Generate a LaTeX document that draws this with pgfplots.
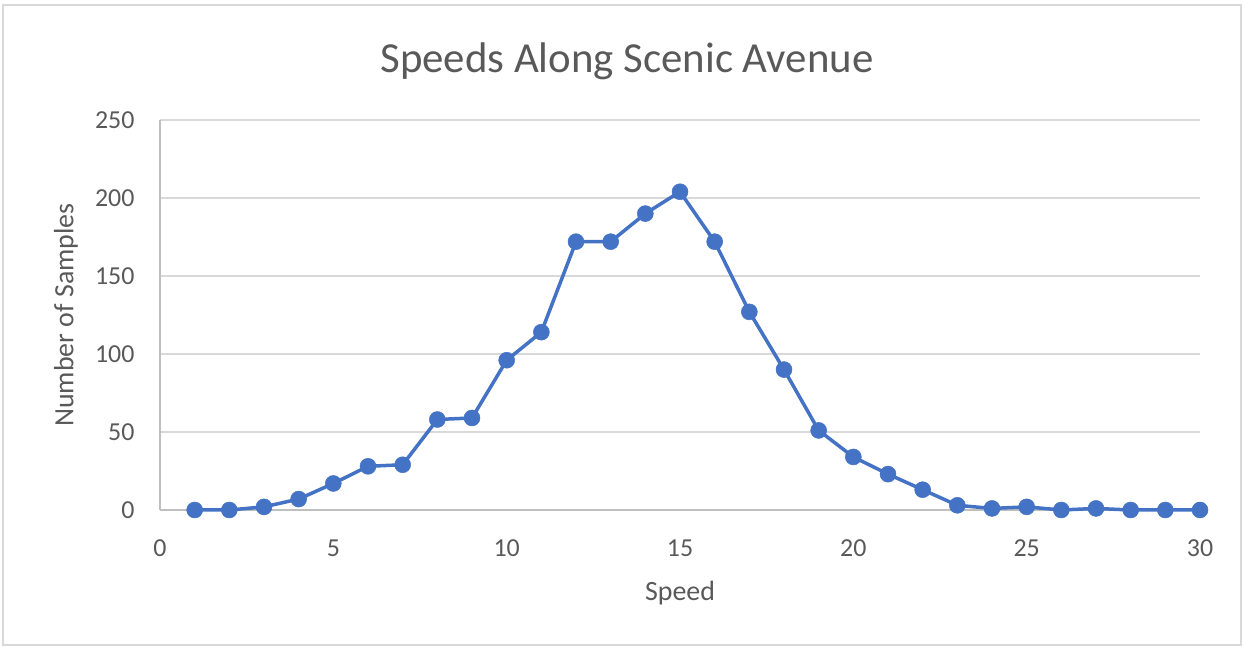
\documentclass[border=0pt]{standalone}
\usepackage{pgfplots}
\pgfplotsset{compat=1.18}
\usepackage{fontspec}
\setmainfont{Carlito}
\definecolor{lineblue}{HTML}{4472C4}
\definecolor{gridgray}{HTML}{D9D9D9}
\definecolor{axisgray}{HTML}{BFBFBF}
\definecolor{textgray}{HTML}{595959}
\begin{document}
\begin{tikzpicture}[x=1bp,y=1bp]
\path[use as bounding box] (0,0) rectangle (1244,647);
\draw[gridgray, line width=1.5bp] (3,2) rectangle (1241,642);
\begin{axis}[
  at={(160bp,137bp)}, anchor=south west,
  width=1040bp, height=390bp, scale only axis,
  xmin=0, xmax=30, ymin=0, ymax=250,
  xtick={0,5,...,30}, ytick={0,50,...,250},
  ymajorgrids, grid style={gridgray, line width=1.5bp},
  axis x line*=bottom, axis y line*=left,
  axis line style={axisgray, line width=1.5bp, -},
  major tick length=0pt,
  clip=false,
  /pgf/number format/assume math mode=true,
  tick label style={font=\fontsize{26}{30}\selectfont, text=textgray},
  xticklabel style={yshift=-26bp},
  yticklabel style={xshift=-22bp},
]
\addplot[lineblue, line width=3.5bp, mark=*, mark size=8bp, mark options={fill=lineblue, draw=lineblue, line width=0.5bp}] coordinates {
(1,0) (2,0) (3,2) (4,7) (5,17) (6,28) (7,29) (8,58) (9,59) (10,96)
(11,114) (12,172) (13,172) (14,190) (15,204) (16,172) (17,127) (18,90) (19,51) (20,34)
(21,23) (22,13) (23,3) (24,1) (25,2) (26,0) (27,1) (28,0) (29,0) (30,0)
};
\end{axis}
\node[text=textgray, font=\fontsize{43}{49}\selectfont] at (627,586) {Speeds Along Scenic Avenue};
\node[text=textgray, font=\fontsize{28}{32}\selectfont, rotate=90] at (66,332) {Number of Samples};
\node[text=textgray, font=\fontsize{28}{32}\selectfont] at (680,54) {Speed};
\end{tikzpicture}
\end{document}
